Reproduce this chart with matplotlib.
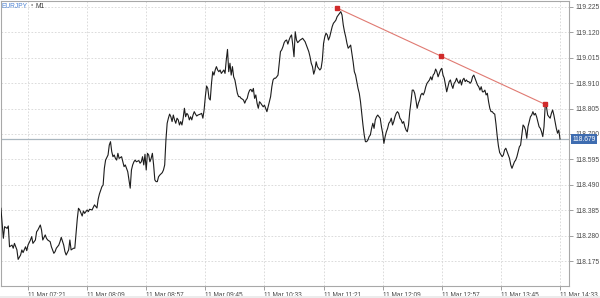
import matplotlib
matplotlib.use("Agg")
import matplotlib.pyplot as plt
import matplotlib.transforms as mtransforms
from matplotlib.patches import Rectangle

plt.rcParams['font.family'] = ['Liberation Sans', 'DejaVu Sans']

# minute 0 = 06:56 on 11 Mar
START_HOUR, START_MIN = 6, 56

minutes = [
    2, 3, 5, 6, 8, 9, 10, 12, 13, 14,
    16, 17, 19, 20, 21, 23, 24, 25, 27, 28,
    29, 31, 32, 33, 35, 36, 37, 39, 40, 41,
    43, 44, 46, 47, 48, 50, 51, 52, 54, 55,
    56, 58, 59, 60, 62, 63, 65, 66, 67, 69,
    70, 71, 73, 74, 75, 77, 78, 79, 81, 82,
    83,
    85, 86, 87, 88, 90, 91, 92, 93, 94, 95,
    96, 97, 98, 99, 101, 102, 103, 104, 105, 106,
    107, 108, 109, 110, 111, 112, 113, 115, 116, 117,
    118, 119, 120, 121, 122, 123, 124, 125, 126, 127,
    128, 129, 130, 131, 132, 134, 135, 136, 137, 138,
    139, 140, 141, 142, 143, 144, 145, 146, 147, 148,
    149, 150, 151, 152, 153, 154, 155, 156, 157, 158,
    159, 160, 161, 162, 163, 165,
    166, 167, 168, 169, 170, 171, 172, 173, 174, 175,
    176, 177, 178, 179, 180, 181, 182, 183, 184, 185,
    186, 187, 188, 189, 190, 191, 192, 193, 194, 195,
    196, 197, 198, 199, 200, 201, 202, 203, 204, 205,
    206, 207, 208, 209, 210, 211, 212, 213, 214, 215,
    216, 217, 218, 219, 220, 221, 222, 223, 224, 225,
    226, 227, 228, 229, 230, 231, 232, 233, 234, 235,
    236, 237, 238, 239, 240, 241, 242, 243, 244, 246,
    247, 248, 250,
    251, 253, 254, 255, 256, 257, 258, 259, 260, 261,
    262, 263, 264, 265, 266, 267, 268, 269, 270, 271,
    272, 273, 274, 275, 276, 277, 278, 279, 280, 281,
    282, 283, 284, 285, 286, 287, 288, 289, 290, 291,
    292, 293, 294, 295, 296, 297, 298, 299, 300, 301,
    302, 303, 304, 305, 306, 307, 308, 309, 310, 311,
    312, 313, 314, 315, 316, 317, 318, 319, 320, 321,
    322, 323, 324, 325, 326, 327, 328,
    329, 330, 331, 332, 333, 334, 335, 336, 337, 338,
    339, 340, 341, 342, 343, 344, 345, 346, 347, 348,
    349, 350, 351, 352, 353, 354, 355, 356, 357, 358,
    359, 360, 361, 362, 363, 364, 365, 366, 367, 368,
    369, 370, 371, 372, 373, 374, 375, 376, 377, 378,
    379, 380, 381, 382, 383, 384, 385, 386, 387, 388,
    389, 390, 391, 392, 393, 394, 395, 396, 397, 398,
    399, 400, 401, 402, 403, 404, 405, 406, 407, 408,
    410,
    411, 412, 413, 414, 415, 416, 417, 418, 419, 420,
    421, 422, 423, 424, 425, 426, 427, 428, 429, 430,
    431, 432, 433, 434, 435, 436, 437, 438, 439, 440,
    441, 442, 443, 444, 445, 446, 447, 448, 449, 450,
    451, 452, 453, 454, 455, 456, 457,
]

closes = [
    118.402, 118.393, 118.269, 118.317, 118.310, 118.320, 118.234, 118.241, 118.228, 118.248,
    118.221, 118.182, 118.200, 118.221, 118.210, 118.234, 118.218, 118.241, 118.262, 118.276,
    118.248, 118.262, 118.296, 118.303, 118.324, 118.303, 118.262, 118.283, 118.269, 118.262,
    118.255, 118.234, 118.207, 118.214, 118.228, 118.241, 118.255, 118.273, 118.241, 118.214,
    118.200, 118.221, 118.262, 118.221, 118.228, 118.228, 118.348, 118.393, 118.386, 118.361,
    118.382, 118.372, 118.386, 118.379, 118.389, 118.386, 118.397, 118.407, 118.394, 118.431,
    118.452,
    118.482, 118.489, 118.558, 118.592, 118.613, 118.654, 118.668, 118.627, 118.606, 118.613,
    118.599, 118.592, 118.620, 118.599, 118.606, 118.585, 118.565, 118.572, 118.558, 118.544,
    118.510, 118.476, 118.551, 118.572, 118.585, 118.592, 118.585, 118.590, 118.579, 118.585,
    118.606, 118.572, 118.616, 118.551, 118.620, 118.613, 118.585, 118.599, 118.620, 118.572,
    118.510, 118.503, 118.503, 118.523, 118.530, 118.540, 118.551, 118.572, 118.675, 118.744,
    118.765, 118.782, 118.771, 118.751, 118.778, 118.758, 118.744, 118.765, 118.758, 118.737,
    118.751, 118.737, 118.765, 118.806, 118.771, 118.785, 118.778, 118.758, 118.771, 118.758,
    118.778, 118.792, 118.782, 118.774, 118.778, 118.782,
    118.785, 118.765, 118.799, 118.854, 118.898, 118.888, 118.847, 118.840, 118.909, 118.957,
    118.943, 118.964, 118.978, 118.964, 118.957, 118.964, 118.950, 118.957, 118.964, 118.950,
    119.005, 119.049, 118.957, 118.992, 118.943, 118.978, 118.936, 118.923, 118.895, 118.868,
    118.854, 118.854, 118.847, 118.844, 118.840, 118.827, 118.840, 118.847, 118.868, 118.881,
    118.884, 118.874, 118.888, 118.847, 118.861, 118.827, 118.806, 118.833, 118.827, 118.819,
    118.812, 118.819, 118.806, 118.792, 118.812, 118.833, 118.854, 118.895, 118.923, 118.930,
    118.930, 118.936, 118.943, 118.992, 119.040, 119.047, 119.060, 119.077, 119.085, 119.088,
    119.071, 119.088, 119.101, 119.109, 119.067, 119.019, 119.122, 119.088, 119.077, 119.088,
    119.091, 119.095, 119.081,
    119.067, 119.040, 119.019, 118.992, 118.978, 118.947, 118.964, 118.998, 118.978, 118.971,
    118.964, 118.971, 119.005, 119.074, 119.101, 119.116, 119.109, 119.088, 119.101, 119.122,
    119.143, 119.157, 119.163, 119.170, 119.184, 119.191, 119.198, 119.205, 119.191, 119.150,
    119.122, 119.101, 119.074, 119.054, 119.060, 119.067, 119.033, 118.998, 118.957, 118.943,
    118.916, 118.888, 118.868, 118.833, 118.785, 118.737, 118.696, 118.668, 118.668, 118.675,
    118.689, 118.696, 118.723, 118.744, 118.723, 118.758, 118.771, 118.778, 118.771, 118.765,
    118.730, 118.703, 118.661, 118.689, 118.709, 118.723, 118.744, 118.751, 118.765, 118.737,
    118.751, 118.771, 118.785, 118.792, 118.785, 118.765, 118.758,
    118.744, 118.751, 118.730, 118.716, 118.709, 118.737, 118.792, 118.833, 118.881, 118.881,
    118.868, 118.840, 118.806, 118.827, 118.840, 118.861, 118.868, 118.861, 118.874, 118.895,
    118.909, 118.916, 118.923, 118.936, 118.923, 118.943, 118.950, 118.968, 118.957, 118.936,
    118.950, 118.964, 118.971, 118.943, 118.930, 118.902, 118.874, 118.895, 118.916, 118.923,
    118.902, 118.888, 118.909, 118.916, 118.930, 118.916, 118.909, 118.923, 118.902, 118.923,
    118.930, 118.916, 118.923, 118.916, 118.916, 118.909, 118.916, 118.936, 118.943, 118.930,
    118.916, 118.902, 118.895, 118.881, 118.895, 118.874, 118.874, 118.881, 118.861, 118.868,
    118.833, 118.806, 118.792, 118.792, 118.785, 118.782, 118.741, 118.691, 118.650, 118.623,
    118.606,
    118.613, 118.634, 118.641, 118.627, 118.613, 118.599, 118.572, 118.558, 118.572, 118.585,
    118.592, 118.606, 118.627, 118.647, 118.654, 118.696, 118.737, 118.730, 118.716, 118.682,
    118.730, 118.751, 118.771, 118.778, 118.792, 118.778, 118.785, 118.771, 118.751, 118.730,
    118.723, 118.709, 118.689, 118.730, 118.819, 118.812, 118.778, 118.771, 118.765, 118.785,
    118.799, 118.778, 118.751, 118.723, 118.703, 118.716, 118.679,
]

trend_minutes = [276, 445]
trend_prices = [119.220, 118.822]
last_price = 118.679

y_ticks = [118.175, 118.280, 118.385, 118.490, 118.595, 118.700,
           118.805, 118.910, 119.015, 119.120, 119.225]
x_tick_labels = ["11 Mar 07:21", "11 Mar 08:09", "11 Mar 08:57", "11 Mar 09:45",
                 "11 Mar 10:33", "11 Mar 11:21", "11 Mar 12:09", "11 Mar 12:57",
                 "11 Mar 13:45", "11 Mar 14:33"]
symbol = "EURJPY"
timeframe = "M1"


def label_to_minute(label):
    hh, mm = label.split()[-1].split(":")
    return int(hh) * 60 + int(mm) - (START_HOUR * 60 + START_MIN)


W, H = 600, 298
fig = plt.figure(figsize=(W / 100, H / 100), dpi=100)
fig.patch.set_facecolor("white")
fig.patches.append(Rectangle((0, 0), 1, 2 / H, transform=fig.transFigure,
                             facecolor="#ececec", edgecolor="none"))

ax = fig.add_axes([1 / W, 12 / H, 568 / W, 285 / H])
ax.set_xlim(3.08, 464.3)
ax.set_ylim(118.072, 119.249)

grid_kw = dict(color="#d6d6d6", lw=0.6, linestyle=(0, (2, 2)), zorder=0)
ax.grid(True, **grid_kw)

for sp in ax.spines.values():
    sp.set_color("#a8a8a8")
    sp.set_linewidth(0.8)

# price line
n = min(len(minutes), len(closes))
ax.plot(minutes[:n], closes[:n], color="#1c1c1c", lw=0.8, zorder=3)

# last price line and label
ax.axhline(last_price, color="#a9b6bf", lw=0.9, zorder=2)
trans = mtransforms.blended_transform_factory(ax.transAxes, ax.transData)
ax.text(1.0 + 3.5 / 568, last_price, f"{last_price:.3f}", transform=trans,
        ha="left", va="center", fontsize=4.8, color="white", clip_on=False, zorder=6,
        bbox=dict(boxstyle="square,pad=0.2", fc="#3e6cb0", ec="none"))

# trend line with anchor/mid handles
ax.plot(trend_minutes, trend_prices, color="#e07a72", lw=0.8, zorder=4)
mid_m = (trend_minutes[0] + trend_minutes[1]) / 2
mid_p = (trend_prices[0] + trend_prices[1]) / 2
ax.plot([trend_minutes[0], mid_m, trend_minutes[1]],
        [trend_prices[0], mid_p, trend_prices[1]],
        ls="none", marker="s", ms=2.4, color="#d02a2a", zorder=5)

# axes ticks
ax.yaxis.tick_right()
ax.set_yticks(y_ticks)
ax.set_yticklabels([f"{v:.3f}" for v in y_ticks])
ax.set_xticks([label_to_minute(l) for l in x_tick_labels])
ax.set_xticklabels(x_tick_labels)
for lbl in ax.get_xticklabels():
    lbl.set_horizontalalignment("left")
ax.tick_params(axis="both", direction="out", length=3, width=0.6, color="#909090",
               labelcolor="#4a4a4a")
ax.tick_params(axis="x", pad=1.0, labelsize=4.7)
ax.tick_params(axis="y", pad=1.5, labelsize=4.9)

# title
fig.text(2 / W, 1 - 6 / H, symbol, fontsize=4.8, color="#4f84d4", ha="left", va="center")
fig.text(30.5 / W, 1 - 6 / H, "\u2022", fontsize=4.8, color="#8a8a8a", ha="left", va="center")
fig.text(35 / W, 1 - 6 / H, timeframe, fontsize=4.8, color="#3a3a3a", ha="left", va="center")

fig.savefig("out.png", dpi=100)
